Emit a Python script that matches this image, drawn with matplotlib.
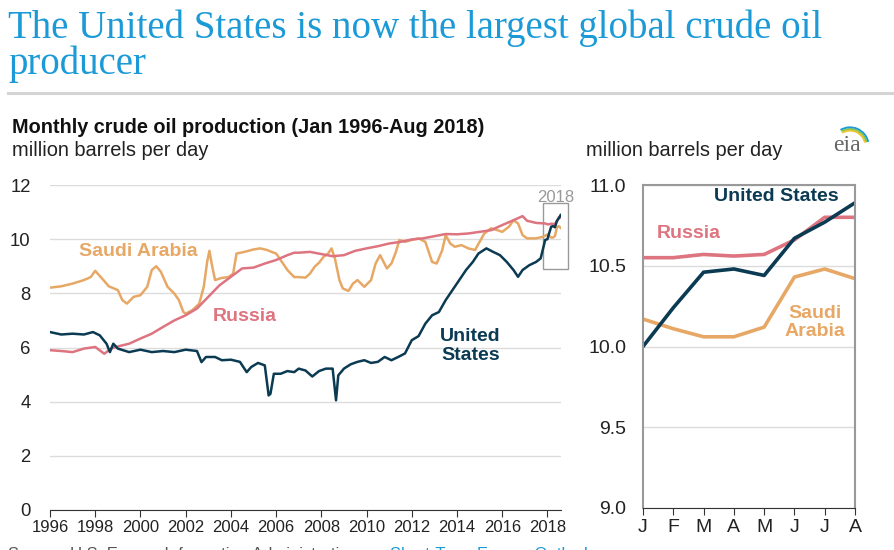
import numpy as np
import matplotlib.pyplot as plt
from matplotlib.patches import Rectangle, Arc

plt.rcParams['font.family'] = ['Liberation Sans', 'DejaVu Sans']

## colours
c_us = '#0b3a53'
c_ru = '#dd7480'
c_sa = '#e7a866'
c_grid = '#dcdcdc'

## monthly production, million barrels per day
sa_t = [1996.0, 1996.5, 1997.0, 1997.5, 1997.8, 1998.0, 1998.3, 1998.6, 1999.0, 1999.2,
        1999.4, 1999.7, 2000.0, 2000.3, 2000.5, 2000.7, 2000.9, 2001.2, 2001.5, 2001.7,
        2001.9, 2002.0, 2002.3, 2002.6, 2002.8, 2002.95, 2003.05, 2003.15, 2003.3, 2003.6,
        2003.9, 2004.1, 2004.25, 2004.6, 2005.0, 2005.3, 2005.6, 2005.8, 2006.0, 2006.2,
        2006.5, 2006.8, 2007.0, 2007.3, 2007.5, 2007.7, 2007.9, 2008.1, 2008.3, 2008.45,
        2008.6, 2008.8, 2008.95, 2009.2, 2009.4, 2009.6, 2009.9, 2010.2, 2010.4, 2010.6,
        2010.9, 2011.1, 2011.3, 2011.45, 2011.7, 2012.0, 2012.3, 2012.6, 2012.9, 2013.1,
        2013.35, 2013.5, 2013.7, 2013.9, 2014.2, 2014.5, 2014.8, 2015.0, 2015.2, 2015.5,
        2015.8, 2016.0, 2016.3, 2016.5, 2016.7, 2016.9, 2017.1, 2017.5, 2017.8]
sa_v = [8.21, 8.26, 8.36, 8.49, 8.6, 8.83, 8.55, 8.26, 8.12, 7.75,
        7.62, 7.87, 7.93, 8.24, 8.86, 9.0, 8.8, 8.24, 7.99, 7.75,
        7.31, 7.25, 7.38, 7.62, 8.24, 9.16, 9.57, 9.1, 8.49, 8.57,
        8.6, 8.73, 9.47, 9.53, 9.62, 9.66, 9.6, 9.53, 9.47, 9.23,
        8.86, 8.6, 8.6, 8.58, 8.73, 8.98, 9.13, 9.35, 9.47, 9.66,
        9.29, 8.49, 8.18, 8.09, 8.36, 8.49, 8.24, 8.49, 9.1, 9.41,
        8.92, 9.1, 9.53, 9.97, 9.9, 9.97, 10.03, 9.9, 9.16, 9.1,
        9.6, 10.15, 9.84, 9.72, 9.78, 9.66, 9.6, 9.9, 10.2, 10.4,
        10.33, 10.27, 10.46, 10.7, 10.58, 10.15, 10.03, 10.03, 10.09]

ru_t = [1996.0, 1996.5, 1997.0, 1997.5, 1998.0, 1998.4, 1998.7, 1999.0, 1999.5, 2000.0,
        2000.5, 2001.0, 2001.5, 2002.0, 2002.5, 2003.0, 2003.5, 2004.0, 2004.5, 2005.0,
        2005.5, 2006.0, 2006.5, 2006.8, 2007.0, 2007.5, 2008.0, 2008.5, 2009.0, 2009.5,
        2010.0, 2010.5, 2011.0, 2011.5, 2012.0, 2012.5, 2013.0, 2013.5, 2014.0, 2014.5,
        2015.0, 2015.5, 2016.0, 2016.5, 2016.9, 2017.1, 2017.5, 2017.9]
ru_v = [5.9, 5.87, 5.83, 5.96, 6.02, 5.77, 5.96, 6.04, 6.14, 6.33,
        6.51, 6.76, 7.0, 7.19, 7.44, 7.87, 8.3, 8.61, 8.92, 8.95,
        9.1, 9.23, 9.41, 9.5, 9.5, 9.53, 9.45, 9.37, 9.41, 9.57,
        9.66, 9.74, 9.84, 9.9, 9.99, 10.03, 10.11, 10.19, 10.18, 10.21,
        10.27, 10.33, 10.52, 10.7, 10.85, 10.68, 10.6, 10.58]

us_t = [1996.0, 1996.5, 1997.0, 1997.5, 1997.9, 1998.2, 1998.5, 1998.65, 1998.8, 1999.0,
        1999.5, 2000.0, 2000.5, 2001.0, 2001.5, 2002.0, 2002.5, 2002.7, 2002.9, 2003.3,
        2003.6, 2004.0, 2004.4, 2004.7, 2004.9, 2005.2, 2005.5, 2005.67, 2005.75, 2005.9,
        2006.2, 2006.5, 2006.8, 2007.0, 2007.3, 2007.6, 2007.9, 2008.2, 2008.5, 2008.65,
        2008.75, 2009.0, 2009.3, 2009.6, 2009.9, 2010.2, 2010.5, 2010.8, 2011.1, 2011.4,
        2011.7, 2012.0, 2012.3, 2012.6, 2012.9, 2013.2, 2013.5, 2013.8, 2014.1, 2014.4,
        2014.7, 2014.95, 2015.3, 2015.6, 2015.9, 2016.2, 2016.5, 2016.7, 2016.9, 2017.2,
        2017.5, 2017.7, 2017.9]
us_v = [6.57, 6.48, 6.51, 6.48, 6.57, 6.45, 6.14, 5.83, 6.14, 5.96,
        5.83, 5.92, 5.83, 5.87, 5.83, 5.92, 5.87, 5.46, 5.65, 5.65,
        5.53, 5.55, 5.47, 5.09, 5.28, 5.43, 5.34, 4.23, 4.29, 5.03,
        5.03, 5.13, 5.09, 5.22, 5.15, 4.93, 5.13, 5.22, 5.22, 4.05,
        4.97, 5.22, 5.38, 5.47, 5.53, 5.43, 5.47, 5.65, 5.53, 5.65,
        5.78, 6.27, 6.42, 6.88, 7.19, 7.31, 7.75, 8.12, 8.49, 8.86,
        9.16, 9.47, 9.66, 9.53, 9.41, 9.16, 8.86, 8.61, 8.86, 9.04,
        9.16, 9.29, 9.97]

## Jan-Aug 2018
months = ['J', 'F', 'M', 'A', 'M', 'J', 'J', 'A']
us_2018 = [10.0, 10.24, 10.46, 10.48, 10.44, 10.67, 10.77, 10.89]
ru_2018 = [10.55, 10.55, 10.57, 10.56, 10.57, 10.66, 10.8, 10.8]
sa_2018 = [10.17, 10.11, 10.06, 10.06, 10.12, 10.43, 10.48, 10.42]
t_2018 = [2018 + i / 12 for i in range(len(months))]

W, H = 894, 550
fig = plt.figure(figsize=(W / 100, H / 100), dpi=100)


def fx(x):
    return x / W


def fy(y):
    return 1 - y / H


## headline
fig.text(fx(8), fy(38), 'The United States is now the largest global crude oil',
         family='Liberation Serif', fontsize=28, color='#1b9ad7', va='baseline')
fig.text(fx(8), fy(74), 'producer',
         family='Liberation Serif', fontsize=28, color='#1b9ad7', va='baseline')
fig.add_artist(plt.Line2D([fx(8), fx(894)], [fy(93), fy(93)], color='#d4d4d4', lw=2.2))

fig.text(fx(12), fy(128), 'Monthly crude oil production (Jan 1996-Aug 2018)',
         fontsize=14.3, fontweight='bold', va='center', color='#111111')
fig.text(fx(12), fy(151), 'million barrels per day', fontsize=14.4, va='center', color='#222222')
fig.text(fx(586), fy(151), 'million barrels per day', fontsize=14.4, va='center', color='#222222')

## eia logo
fig.text(fx(847), fy(146), 'eia', family='Liberation Serif', fontsize=17, color='#666666',
         ha='center', va='center')
for r, col in [(0.9, '#f2c230'), (1.0, '#8cc63f'), (1.1, '#1b9ad7')]:
    arc = Arc((fx(850), fy(146)), fx(34) * r, (34 / H) * r, theta1=20, theta2=110,
              color=col, lw=1.3, transform=fig.transFigure)
    fig.add_artist(arc)

## source line (cut off at the bottom edge, as in the original)
fig.text(fx(8), fy(547), 'Source: U.S. Energy Information Administration, ',
         fontsize=12, color='#555555', va='top')
fig.text(fx(390), fy(547), 'Short-Term Energy Outlook', fontsize=12, color='#1b9ad7', va='top')

## left panel
ax = fig.add_axes([fx(50), fy(510), fx(561) - fx(50), fy(185) - fy(510)])
ax.plot(sa_t + t_2018, sa_v + sa_2018, color=c_sa, lw=1.8)
ax.plot(ru_t + t_2018, ru_v + ru_2018, color=c_ru, lw=1.8)
ax.plot(us_t + t_2018, us_v + us_2018, color=c_us, lw=1.8)
ax.set_xlim(1996, 2018.6)
ax.set_ylim(0, 12)
ax.set_yticks(range(0, 13, 2))
ax.set_xticks(range(1996, 2019, 2))
ax.yaxis.grid(True, color=c_grid, lw=1)
ax.set_axisbelow(True)
for s in ['left', 'right', 'top']:
    ax.spines[s].set_visible(False)
ax.spines['bottom'].set_color('#333333')
ax.tick_params(axis='y', length=0, labelsize=13.3, pad=14, labelcolor='#222222')
ax.tick_params(axis='x', length=5, color='#333333', labelsize=12, pad=2, labelcolor='#222222')

ax.add_patch(Rectangle((2017.82, 8.9), 1.1, 2.43, fill=False, ec='#999999', lw=1,
                       clip_on=False))
ax.text(2018.37, 11.55, '2018', color='#999999', fontsize=12, ha='center', va='center')

ax.text(1997.3, 9.56, 'Saudi Arabia', color=c_sa, fontsize=14, fontweight='bold', va='center')
ax.text(2003.2, 7.16, 'Russia', color=c_ru, fontsize=14, fontweight='bold', va='center')
ax.text(2014.6, 6.05, 'United\nStates', color=c_us, fontsize=14, fontweight='bold',
        ha='center', va='center', linespacing=1.2)

## right panel (2018)
ax2 = fig.add_axes([fx(643), fy(508), fx(855) - fx(643), fy(185) - fy(508)])
x2 = np.arange(1, len(months) + 1)
ax2.plot(x2, ru_2018, color=c_ru, lw=2.6)
ax2.plot(x2, sa_2018, color=c_sa, lw=2.6)
ax2.plot(x2, us_2018, color=c_us, lw=2.6)
ax2.set_xlim(1, 8)
ax2.set_ylim(9.0, 11.0)
ax2.set_yticks([9.0, 9.5, 10.0, 10.5, 11.0])
ax2.set_yticklabels(['9.0', '9.5', '10.0', '10.5', '11.0'])
ax2.set_xticks(x2)
ax2.set_xticklabels(months)
ax2.yaxis.grid(True, color=c_grid, lw=1)
ax2.set_axisbelow(True)
for s in ['left', 'right', 'top']:
    ax2.spines[s].set_color('#999999')
    ax2.spines[s].set_linewidth(1.5)
ax2.spines['bottom'].set_color('#333333')
ax2.tick_params(axis='y', length=0, labelsize=14, pad=12, labelcolor='#222222')
ax2.tick_params(axis='x', length=5, color='#333333', labelsize=14, pad=3, labelcolor='#222222')

ax2.text(5.4, 10.93, 'United States', color=c_us, fontsize=14, fontweight='bold',
         ha='center', va='center')
ax2.text(2.52, 10.70, 'Russia', color=c_ru, fontsize=14, fontweight='bold',
         ha='center', va='center')
ax2.text(6.68, 10.15, 'Saudi\nArabia', color=c_sa, fontsize=14, fontweight='bold',
         ha='center', va='center', linespacing=1.1)

fig.savefig('out.png', dpi=100)
